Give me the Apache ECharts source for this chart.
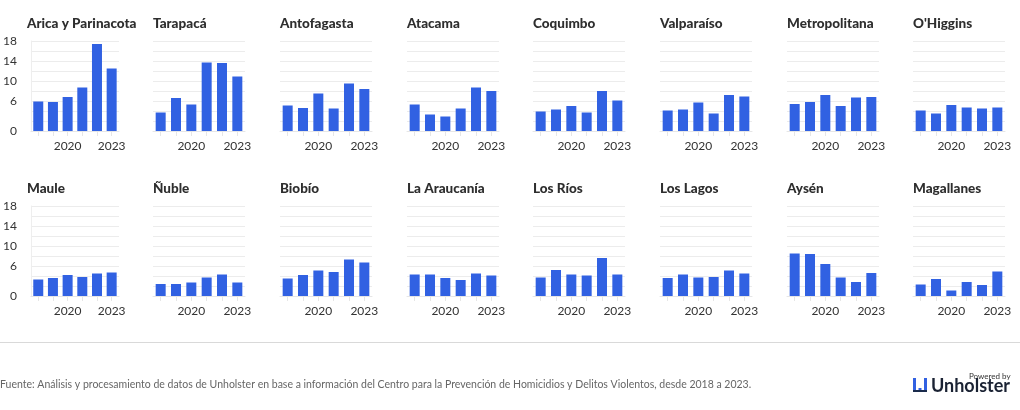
<!DOCTYPE html>
<html>
<head>
<meta charset="utf-8">
<script src="https://cdn.jsdelivr.net/npm/echarts@6/dist/echarts.min.js"></script>
<style>
html,body{margin:0;padding:0;background:#fff;}
#c{width:1020px;height:410px;}
</style>
</head>
<body>
<div id="c"></div>
<script>
const years = ['2018','2019','2020','2021','2022','2023'];
const regions = ['Arica y Parinacota','Tarapacá','Antofagasta','Atacama','Coquimbo','Valparaíso','Metropolitana',"O'Higgins",
                 'Maule','Ñuble','Biobío','La Araucanía','Los Ríos','Los Lagos','Aysén','Magallanes'];
const aricaParinacota = [5.9, 5.8, 6.8, 8.7, 17.4, 12.5];
const tarapaca        = [3.7, 6.6, 5.3, 13.7, 13.6, 10.9];
const antofagasta     = [5.1, 4.6, 7.5, 4.5, 9.5, 8.4];
const atacama         = [5.3, 3.3, 2.9, 4.5, 8.7, 8.0];
const coquimbo        = [3.9, 4.3, 5.0, 3.7, 8.0, 6.1];
const valparaiso      = [4.1, 4.3, 5.7, 3.5, 7.2, 6.9];
const metropolitana   = [5.4, 5.8, 7.2, 5.0, 6.7, 6.8];
const ohiggins        = [4.1, 3.5, 5.2, 4.7, 4.5, 4.7];
const maule           = [3.3, 3.6, 4.2, 3.8, 4.5, 4.7];
const nuble           = [2.4, 2.4, 2.7, 3.7, 4.3, 2.7];
const biobio          = [3.5, 4.2, 5.1, 4.8, 7.3, 6.7];
const araucania       = [4.3, 4.3, 3.6, 3.2, 4.5, 4.1];
const losRios         = [3.7, 5.2, 4.3, 4.1, 7.6, 4.3];
const losLagos        = [3.6, 4.3, 3.7, 3.8, 5.1, 4.5];
const aysen           = [8.5, 8.4, 6.4, 3.7, 2.8, 4.6];
const magallanes      = [2.3, 3.4, 1.1, 2.8, 2.2, 4.9];
const seriesData = [aricaParinacota, tarapaca, antofagasta, atacama, coquimbo, valparaiso, metropolitana, ohiggins,
                    maule, nuble, biobio, araucania, losRios, losLagos, aysen, magallanes];
const yTickLabels = [0, 6, 10, 14, 18];
const xShownLabels = ['2020', '2023'];
const sourceText = 'Fuente: Análisis y procesamiento de datos de Unholster en base a información del Centro para la Prevención de Homicidios y Delitos Violentos, desde 2018 a 2023.';

const FONT = 'Lato';
const colLeft = [27, 153, 280, 407, 533, 660, 787, 913];
const rowTop = [41, 206];
const gridW = 92, gridH = 90;

const grids = [], xAxes = [], yAxes = [], series = [], titles = [];
regions.forEach((name, i) => {
  const r = Math.floor(i / 8), c = i % 8;
  grids.push({left: colLeft[c], top: rowTop[r], width: gridW, height: gridH, containLabel: false});
  titles.push({text: name, left: colLeft[c], top: rowTop[r] - 24, padding: 0,
    textStyle: {fontFamily: FONT, fontSize: 13.5, fontWeight: 900, color: '#2e2e2e'}});
  xAxes.push({type: 'category', gridIndex: i, data: years,
    axisLine: {show: true, lineStyle: {color: '#e6e6e6'}},
    axisTick: {show: true, alignWithLabel: true, interval: 0, length: 5, lineStyle: {color: '#e6e6e6'}},
    axisLabel: {interval: 0, margin: 9, fontFamily: FONT, fontSize: 12, color: '#333',
      formatter: v => xShownLabels.includes(v) ? v : ''}});
  yAxes.push({type: 'value', gridIndex: i, min: 0, max: 18, interval: 2,
    axisLine: {show: c === 0, lineStyle: {color: '#eeeeee'}},
    axisTick: {show: false},
    splitLine: {show: true, lineStyle: {color: '#ececec', width: 1}},
    axisLabel: {show: c === 0, margin: 14, fontFamily: FONT, fontSize: 12, color: '#333',
      formatter: v => yTickLabels.includes(v) ? String(v) : ''}});
  series.push({type: 'bar', xAxisIndex: i, yAxisIndex: i, data: seriesData[i], barWidth: 10,
    itemStyle: {color: '#3161e2'}, silent: true, animation: false});
});

const chart = echarts.init(document.getElementById('c'), null, {renderer: 'canvas'});
chart.setOption({
  animation: false,
  backgroundColor: '#fff',
  title: titles,
  grid: grids, xAxis: xAxes, yAxis: yAxes, series: series,
  graphic: [
    {type: 'line', shape: {x1: 0, y1: 342.5, x2: 1020, y2: 342.5}, style: {stroke: '#d9d9d9', lineWidth: 1}},
    {type: 'text', left: 0, top: 379, style: {text: sourceText, fontFamily: FONT, fontSize: 10.5, fill: '#666'}},
    {type: 'rect', shape: {x: 913, y: 378, width: 3, height: 14}, style: {fill: '#3161e2'}},
    {type: 'rect', shape: {x: 918.5, y: 388, width: 3, height: 4}, style: {fill: '#3161e2'}},
    {type: 'rect', shape: {x: 924, y: 378, width: 3, height: 14}, style: {fill: '#3161e2'}},
    {type: 'rect', shape: {x: 913, y: 390, width: 14, height: 2}, style: {fill: '#1a2b4c'}},
    {type: 'text', left: 969, top: 372, style: {text: 'Powered by', fontFamily: FONT, fontSize: 8, fill: '#333'}},
    {type: 'text', left: 931, top: 377, style: {text: 'Unholster', fontFamily: FONT, fontSize: 18, fontWeight: 'bold', fill: '#1a2233'}}
  ]
});
</script>
</body>
</html>
